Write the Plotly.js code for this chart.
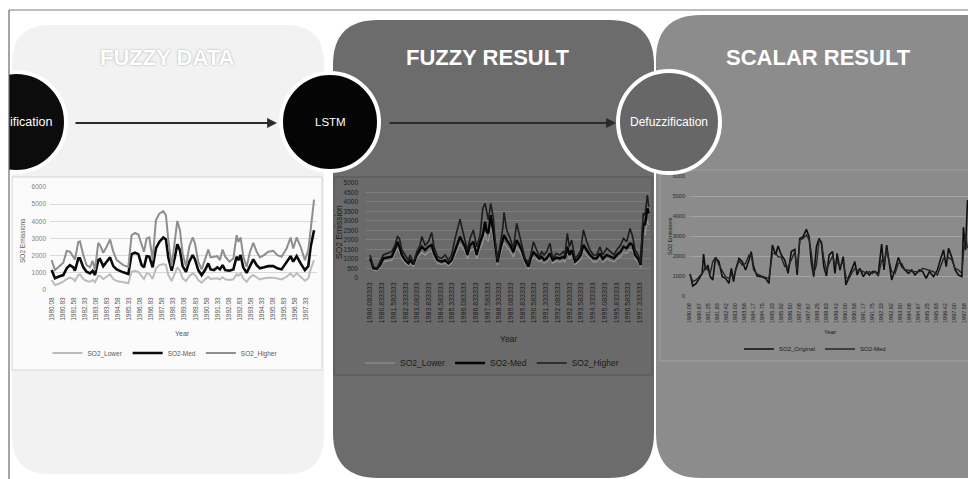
<!DOCTYPE html>
<html><head><meta charset="utf-8">
<script src="https://cdn.plot.ly/plotly-3.0.1.min.js"></script>
<style>html,body{margin:0;padding:0;background:#fff;}#chart{width:968px;height:479px;}</style>
</head><body><div id="chart"></div>
<script>
// ---------- Panel 1: FUZZY DATA ----------
const fuzzyYears = [1980.08,1980.31,1980.53,1980.87,1981.10,1981.32,1981.55,1981.66,1981.89,1982.00,
1982.23,1982.45,1982.68,1982.86,1983.02,1983.24,1983.36,1983.58,1983.81,1984.04,
1984.26,1984.49,1984.94,1985.28,1985.50,1985.73,1985.96,1986.18,1986.34,1986.52,
1986.70,1986.93,1987.15,1987.38,1987.65,1987.83,1987.99,1988.22,1988.44,1988.60,
1988.78,1988.96,1989.19,1989.41,1989.64,1989.80,1990.02,1990.25,1990.48,1990.70,
1990.86,1991.09,1991.31,1991.49,1991.67,1991.85,1992.13,1992.40,1992.62,1992.74,
1992.89,1993.07,1993.30,1993.53,1993.75,1993.98,1994.20,1994.48,1994.77,1995.11,
1995.38,1995.67,1996.01,1996.28,1996.46,1996.69,1996.96,1997.25,1997.48,1997.64,
1997.87];
const fuzzyLower = [580,290,350,480,640,720,640,520,870,910,
640,520,480,580,450,810,810,640,770,910,
640,520,450,390,1060,1120,1060,810,640,970,
930,640,1260,1450,1510,1450,870,520,970,1320,
1120,680,520,810,970,870,580,430,620,770,
640,640,680,620,740,620,580,620,930,830,
970,680,480,740,870,740,620,680,720,720,
660,620,770,970,770,970,770,540,680,1200,
1740];
const fuzzyMed = [1160,680,770,870,1260,1450,1320,1120,1840,1840,
1320,1060,970,1120,870,1740,1800,1390,1650,1900,
1390,1200,1030,930,2090,2170,2090,1450,1320,1970,
1940,1320,2420,2800,3060,2940,1900,1120,1940,2670,
2320,1390,1060,1650,2030,1780,1160,870,1160,1550,
1200,1160,1320,1200,1450,1160,1120,1200,1940,1740,
2030,1320,1000,1450,1780,1450,1260,1320,1390,1390,
1260,1200,1590,1970,1650,1970,1550,1160,1390,2520,
3480];
const fuzzyHigher = [1740,1160,1320,1590,2280,2230,1940,1780,2800,2840,
2030,1450,1320,1700,1160,2750,2610,2170,2520,2940,
2230,1740,1450,1350,3190,3330,3230,2600,2230,3000,
3060,1780,4060,4450,4590,4350,2900,1390,3000,4020,
3480,2130,1390,2520,3060,2710,1650,1200,1780,2360,
1900,1940,1970,1740,2360,1940,1650,1840,3190,2800,
3060,1970,1350,2230,2750,2230,1900,2030,2230,2280,
2030,1940,2420,3060,2420,3060,2520,1740,2320,3520,
5260];
const fuzzyTickLabels = ["1980.08","1980.83","1981.58","1982.33","1983.08","1983.83","1984.58","1985.33",
"1986.08","1986.83","1987.58","1988.33","1989.08","1989.83","1990.58","1991.33","1992.08","1992.83",
"1993.58","1994.33","1995.08","1995.83","1996.58","1997.33"];

// ---------- Panel 2: FUZZY RESULT ----------
const resultYears = [1980.08,1980.29,1980.51,1980.72,1980.93,1981.15,1981.47,1981.68,1981.83,1981.96,
1982.11,1982.32,1982.53,1982.64,1982.85,1983.07,1983.28,1983.39,1983.60,1983.81,
1984.02,1984.17,1984.39,1984.66,1984.88,1985.09,1985.30,1985.52,1985.69,1985.84,
1985.94,1986.16,1986.31,1986.48,1986.69,1986.90,1987.12,1987.29,1987.44,1987.54,
1987.65,1987.80,1987.97,1988.08,1988.23,1988.40,1988.57,1988.65,1988.82,1989.04,
1989.25,1989.46,1989.63,1989.78,1989.99,1990.21,1990.36,1990.53,1990.70,1990.91,
1991.06,1991.21,1991.38,1991.59,1991.76,1991.98,1992.23,1992.45,1992.55,1992.70,
1992.83,1992.98,1993.19,1993.41,1993.56,1993.73,1993.94,1994.15,1994.37,1994.58,
1994.79,1994.96,1995.22,1995.43,1995.69,1995.86,1996.11,1996.29,1996.50,1996.71,
1996.88,1997.03,1997.24,1997.39,1997.56,1997.67,1997.82,1997.91];
const resultLower = [850,420,380,560,850,900,920,1250,1550,1350,
1000,780,640,780,600,1000,1200,1350,1200,1350,
1420,1060,780,710,780,640,780,1200,1550,1780,
1630,1350,1000,1420,1550,1000,1550,1850,2400,2000,
1920,2700,2000,1350,680,1200,1630,1850,1630,1420,
1100,1630,1420,1200,780,480,850,1100,1000,850,
920,780,850,1060,780,880,850,920,850,1350,
1000,1200,710,850,1000,1420,1200,1000,850,850,
1060,820,1000,920,850,1000,1130,1350,1280,1490,
1420,1000,820,560,2350,2280,3000,2780];
const resultMed = [1030,510,470,680,1030,1070,1120,1520,1900,1640,
1210,940,770,940,720,1210,1470,1640,1470,1640,
1730,1290,940,860,940,770,940,1470,1900,2170,
1990,1640,1210,1730,1900,1210,1900,2250,2950,2430,
2340,3300,2430,1640,820,1470,1990,2250,1990,1730,
1350,1990,1730,1470,940,590,1030,1350,1210,1030,
1120,940,1030,1290,940,1070,1030,1120,1030,1640,
1210,1470,860,1030,1210,1730,1470,1210,1030,1030,
1290,1000,1210,1120,1030,1210,1380,1640,1560,1820,
1730,1210,1000,680,2870,2780,3650,3390];
const resultHigher = [1210,590,510,820,1210,1290,1380,1730,2170,2080,
1470,1210,940,1210,770,1380,1730,2170,1730,1900,
2390,1640,1120,1030,1210,940,1210,2080,2600,3090,
2690,1900,1470,2080,2520,1640,2250,3650,3915,3480,
3040,3915,3130,1990,940,1730,2600,3440,2520,2080,
1560,2870,2250,1730,1030,820,1210,1900,1560,1120,
1380,1210,1380,1820,1030,1290,1210,1380,1210,2340,
1640,1990,1030,1210,1470,2520,1900,1470,1210,1210,
1640,1210,1560,1380,1210,1470,1730,2080,1900,2600,
2170,1470,1210,770,3390,3300,4350,3740];
const resultTickLabels = ["1980.083333","1980.833333","1981.583333","1982.333333","1983.083333","1983.833333",
"1984.583333","1985.333333","1986.083333","1986.833333","1987.583333","1988.333333","1989.083333",
"1989.833333","1990.583333","1991.333333","1992.083333","1992.833333","1993.583333","1994.333333",
"1995.083333","1995.833333","1996.583333","1997.333333"];

// ---------- Panel 3: SCALAR RESULT ----------
const scalarYears = [1980.12,1980.29,1980.51,1980.72,1980.89,1980.98,1981.10,1981.25,1981.40,1981.57,
1981.74,1981.96,1982.17,1982.38,1982.60,1982.75,1982.89,1983.02,1983.24,1983.45,
1983.66,1983.88,1984.02,1984.17,1984.39,1984.66,1984.94,1985.15,1985.37,1985.58,
1985.73,1985.94,1986.16,1986.37,1986.58,1986.80,1986.95,1987.12,1987.33,1987.54,
1987.71,1987.86,1988.01,1988.18,1988.35,1988.50,1988.65,1988.82,1988.99,1989.21,
1989.36,1989.50,1989.68,1989.89,1990.06,1990.21,1990.42,1990.63,1990.78,1990.95,
1991.17,1991.38,1991.55,1991.76,1991.91,1992.13,1992.34,1992.49,1992.66,1992.83,
1992.98,1993.19,1993.41,1993.62,1993.83,1994.05,1994.26,1994.47,1994.75,1994.96,
1995.18,1995.39,1995.65,1995.90,1996.11,1996.29,1996.46,1996.61,1996.82,1997.03,
1997.24,1997.46,1997.56,1997.69,1997.82];
const scalarOriginal = [1100,500,630,880,1130,2100,1300,1550,970,800,
1930,1720,970,880,630,1380,720,1300,1880,1720,
1300,1800,2220,1470,1000,970,880,630,2550,2050,
2500,2050,1800,1130,2220,2330,1050,2880,2970,3330,
2970,1630,970,2470,2880,2630,1470,1000,2050,2220,
1130,2130,1300,1970,550,880,1300,1720,1050,1380,
970,1220,1050,1220,1220,1130,2600,1300,2550,1720,
800,1300,1930,1470,1300,1130,1300,1050,1300,1220,
880,1220,970,1300,1880,2300,1470,2380,1930,1300,
1050,970,3430,2300,4800];
const scalarMed = [1050,720,800,1000,1150,1220,1470,1300,1130,1720,
1930,1550,1220,970,880,1050,970,1300,1770,1550,
1630,2050,2050,1300,1100,1000,930,880,2130,2130,
1970,1930,1470,1470,1800,2220,1300,2800,2880,3050,
2800,2130,1130,1550,2800,2720,1880,1300,1630,2000,
1550,1720,1470,1720,970,800,1130,1380,1300,1300,
1220,1130,1220,1130,1220,1000,1800,1630,2300,1800,
1220,1130,1630,1630,1300,1300,1220,1220,1220,1380,
1330,1270,1220,1050,1550,1880,1800,1930,1800,1380,
1300,1130,2130,2970,2380];
const scalarTickLabels = ["1980.08","1980.67","1981.25","1981.83","1982.42","1983.00","1983.58","1984.17",
"1984.75","1985.33","1985.92","1986.50","1987.08","1987.67","1988.25","1988.83","1989.42","1990.00",
"1990.58","1991.17","1991.75","1992.33","1992.92","1993.50","1994.08","1994.67","1995.25","1995.83",
"1996.42","1997.00","1997.58"];

// ---------- layout helpers ----------
const W = 968, H = 479;
const px = x => x / W;
const py = y => 1 - y / H;
const NARROW = '"Liberation Sans Narrow", "Arial Narrow", "Liberation Sans", Arial, sans-serif';
const SANS = '"Liberation Sans", Arial, sans-serif';

function rrect(x0, y0, x1, y1, r) {
  return `M${px(x0)},${py(y0 + r)} Q${px(x0)},${py(y0)} ${px(x0 + r)},${py(y0)} ` +
         `L${px(x1 - r)},${py(y0)} Q${px(x1)},${py(y0)} ${px(x1)},${py(y0 + r)} ` +
         `L${px(x1)},${py(y1 - r)} Q${px(x1)},${py(y1)} ${px(x1 - r)},${py(y1)} ` +
         `L${px(x0 + r)},${py(y1)} Q${px(x0)},${py(y1)} ${px(x0)},${py(y1 - r)} Z`;
}
function rect(x0, y0, x1, y1, fill, line, lw, layer) {
  return {type: 'rect', xref: 'paper', yref: 'paper', x0: px(x0), x1: px(x1), y0: py(y1), y1: py(y0),
          fillcolor: fill, line: {color: line || 'rgba(0,0,0,0)', width: lw || 0}, layer: layer || 'below'};
}
function circle(cx, cy, r, fill, lw) {
  return {type: 'circle', xref: 'paper', yref: 'paper', x0: px(cx - r), x1: px(cx + r), y0: py(cy + r), y1: py(cy - r),
          fillcolor: fill, line: {color: '#ffffff', width: lw}, layer: 'above'};
}
function hline(x0, x1, y, color, w, layer) {
  return {type: 'line', xref: 'paper', yref: 'paper', x0: px(x0), x1: px(x1), y0: py(y), y1: py(y), line: {color, width: w}, layer: layer || 'above'};
}
function vline(x, y0, y1, color, w, layer) {
  return {type: 'line', xref: 'paper', yref: 'paper', x0: px(x), x1: px(x), y0: py(y0), y1: py(y1), line: {color, width: w}, layer: layer || 'above'};
}
function txt(x, y, text, size, color, opts) {
  return Object.assign({xref: 'paper', yref: 'paper', x: px(x), y: py(y), text, showarrow: false,
          xanchor: 'center', yanchor: 'middle', font: {size, color, family: SANS}}, opts || {});
}
function arrow(x0, x1, y) {
  return {xref: 'paper', yref: 'paper', x: px(x1), y: py(y), ax: -(x1 - x0), ay: 0, axref: 'pixel', ayref: 'pixel',
          text: '', showarrow: true, arrowhead: 2, arrowsize: 1.1, arrowwidth: 1.8, arrowcolor: '#2a2a2a'};
}

const tv = arr => arr.map(Number);

const traces = [
  {x: fuzzyYears, y: fuzzyLower, name: 'SO2_Lower', type: 'scatter', mode: 'lines', xaxis: 'x', yaxis: 'y', legend: 'legend',
   line: {color: '#bcbcbc', width: 2}},
  {x: fuzzyYears, y: fuzzyMed, name: 'SO2-Med', type: 'scatter', mode: 'lines', xaxis: 'x', yaxis: 'y', legend: 'legend',
   line: {color: '#0a0a0a', width: 2.6}},
  {x: fuzzyYears, y: fuzzyHigher, name: 'SO2_Higher', type: 'scatter', mode: 'lines', xaxis: 'x', yaxis: 'y', legend: 'legend',
   line: {color: '#8e8e8e', width: 2}},

  {x: resultYears, y: resultLower, name: 'SO2_Lower', type: 'scatter', mode: 'lines', xaxis: 'x2', yaxis: 'y2', legend: 'legend2',
   line: {color: '#959595', width: 1.2}},
  {x: resultYears, y: resultMed, name: 'SO2-Med', type: 'scatter', mode: 'lines', xaxis: 'x2', yaxis: 'y2', legend: 'legend2',
   line: {color: '#050505', width: 2.4}},
  {x: resultYears, y: resultHigher, name: 'SO2_Higher', type: 'scatter', mode: 'lines', xaxis: 'x2', yaxis: 'y2', legend: 'legend2',
   line: {color: '#1c1c1c', width: 1.6}},

  {x: scalarYears, y: scalarOriginal, name: 'SO2_Original', type: 'scatter', mode: 'lines', xaxis: 'x3', yaxis: 'y3', legend: 'legend3',
   line: {color: '#0e0e0e', width: 1.6}},
  {x: scalarYears, y: scalarMed, name: 'SO2-Med', type: 'scatter', mode: 'lines', xaxis: 'x3', yaxis: 'y3', legend: 'legend3',
   line: {color: '#262626', width: 1.4}}
];

const baseX = {showgrid: false, zeroline: false, showline: false, ticks: '', tickangle: -90, automargin: false, fixedrange: true};
const baseY = {zeroline: false, showline: false, ticks: '', automargin: false, fixedrange: true, gridwidth: 1};

const layout = {
  width: W, height: H,
  margin: {l: 0, r: 0, t: 0, b: 0},
  paper_bgcolor: '#ffffff', plot_bgcolor: 'rgba(0,0,0,0)',
  hovermode: false,
  font: {family: SANS},
  xaxis: Object.assign({}, baseX, {domain: [px(50), px(317)], range: [1979.97, 1998.07], anchor: 'y',
    tickvals: tv(fuzzyTickLabels), ticktext: fuzzyTickLabels, tickfont: {size: 6.5, color: '#595959'}, ticklabelstandoff: 5}),
  yaxis: Object.assign({}, baseY, {domain: [py(290), py(187)], range: [0, 6000], dtick: 1000, anchor: 'x',
    gridcolor: '#d9d9d9', tickfont: {size: 6.5, color: '#7f7f7f'}, ticklabelstandoff: 3}),
  xaxis2: Object.assign({}, baseX, {domain: [px(366), px(650)], range: [1979.82, 1997.99], anchor: 'y2',
    tickvals: tv(resultTickLabels), ticktext: resultTickLabels, tickfont: {size: 7, color: '#1a1a1a'}, ticklabelstandoff: 2}),
  yaxis2: Object.assign({}, baseY, {domain: [py(278), py(182.7)], range: [0, 5000], dtick: 500, anchor: 'x2',
    gridcolor: '#7d7d7d', tickfont: {size: 6.5, color: '#1e1e1e'}, ticklabelstandoff: 7}),
  xaxis3: Object.assign({}, baseX, {domain: [px(689), 1], range: [1980.05, 1997.85], anchor: 'y3',
    tickvals: tv(scalarTickLabels), ticktext: scalarTickLabels, tickfont: {size: 5.5, color: '#222222'}, ticklabelstandoff: 5}),
  yaxis3: Object.assign({}, baseY, {domain: [py(296), py(176)], range: [0, 6000], dtick: 1000, anchor: 'x3',
    gridcolor: '#a2a2a2', tickfont: {size: 5.5, color: '#2a2a2a'}, ticklabelstandoff: 3}),
  legend: {x: px(165), xanchor: 'center', y: py(353), yanchor: 'middle', orientation: 'h', bgcolor: 'rgba(0,0,0,0)',
    font: {size: 6.5, color: '#595959'}, itemwidth: 30, tracegroupgap: 0},
  legend2: {x: px(492), xanchor: 'center', y: py(363), yanchor: 'middle', orientation: 'h', bgcolor: 'rgba(0,0,0,0)',
    font: {size: 8.5, color: '#1a1a1a'}, itemwidth: 30, tracegroupgap: 0},
  legend3: {x: px(815), xanchor: 'center', y: py(349), yanchor: 'middle', orientation: 'h', bgcolor: 'rgba(0,0,0,0)',
    font: {size: 6, color: '#1a1a1a'}, itemwidth: 30, tracegroupgap: 0},
  shapes: [
    // panels
    {type: 'path', xref: 'paper', yref: 'paper', path: rrect(12, 25, 324, 474, 38), fillcolor: '#f2f2f2', line: {width: 0}, layer: 'below'},
    {type: 'path', xref: 'paper', yref: 'paper', path: rrect(333, 20, 654, 478, 45), fillcolor: '#6c6c6c', line: {width: 0}, layer: 'below'},
    {type: 'path', xref: 'paper', yref: 'paper', path: rrect(656, 15, 1010, 478, 45), fillcolor: '#8c8c8c', line: {width: 0}, layer: 'below'},
    // chart boxes
    rect(12, 177, 322, 370, '#fbfbfb', '#d4d4d4', 1),
    rect(334, 177, 652, 375, '#6a6a6a', '#555555', 1),
    rect(660, 170, 970, 361, '#8b8b8b', '#9f9f9f', 1),
    // circles
    circle(16, 122, 50, '#0c0c0c', 4),
    circle(330, 122, 49, '#050505', 4),
    circle(669, 122, 51, '#676767', 4),
    // left white margin and frame
    rect(0, 0, 9, 479, '#ffffff', null, 0, 'above'),
    hline(9, 968, 10, '#7a7a7a', 1),
    vline(9, 10, 479, '#6a6a6a', 1.2)
  ],
  annotations: [
    txt(167, 57, 'FUZZY DATA', 22, '#ffffff', {font: {size: 22, color: '#ffffff', family: SANS, weight: 700, shadow: '0px 0px 2px #9a9a9a'}}),
    txt(488, 57, 'FUZZY RESULT', 22, '#ffffff', {font: {size: 22, color: '#ffffff', family: SANS, weight: 700}}),
    txt(818, 57, 'SCALAR RESULT', 22, '#ffffff', {font: {size: 22, color: '#ffffff', family: SANS, weight: 700}}),
    arrow(74, 277, 123),
    arrow(388, 616, 123),
    txt(54, 122, 'ification', 12.5, '#ffffff', {xanchor: 'right', font: {size: 12.5, color: '#ffffff', family: NARROW}}),
    txt(330, 122, 'LSTM', 11.5, '#ffffff', {font: {size: 11.5, color: '#ffffff', family: NARROW}}),
    txt(669, 122, 'Defuzzification', 12, '#ffffff', {font: {size: 12, color: '#ffffff', family: NARROW}}),
    // axis titles
    txt(182, 333, 'Year', 7, '#595959'),
    txt(22, 241, 'SO2 Emissions', 6.5, '#595959', {textangle: -90}),
    txt(508, 339, 'Year', 8.5, '#1a1a1a'),
    txt(339, 232, 'SO2 Emission', 8.5, '#1a1a1a', {textangle: -90}),
    txt(830, 332, 'Year', 6, '#1a1a1a'),
    txt(670, 236, 'SO2 Emissions', 5.5, '#1a1a1a', {textangle: -90})
  ]
};

Plotly.newPlot('chart', traces, layout, {staticPlot: true, displayModeBar: false});
</script>
</body></html>
